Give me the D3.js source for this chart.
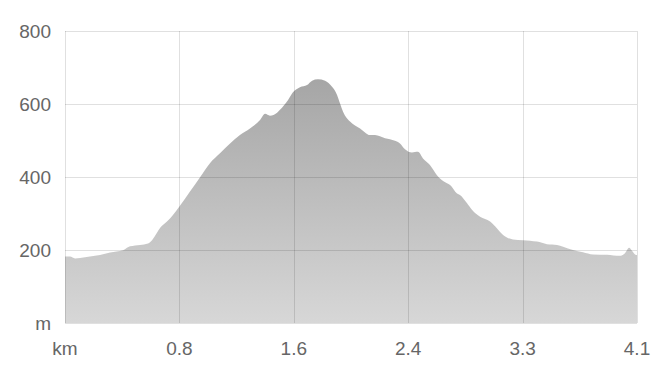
<!DOCTYPE html>
<html>
<head>
<meta charset="utf-8">
<script src="https://cdn.jsdelivr.net/npm/d3@7"></script>
<style>
body { margin: 0; background: #fff; }
svg { display: block; font-family: "Liberation Sans", Arial, sans-serif; }
</style>
</head>
<body>
<div class="chart"></div>
<script>
// elevation profile: distance (km) and elevation (m)
var dist = [0, 0.036, 0.072, 0.108, 0.179, 0.251, 0.323, 0.416, 0.444, 0.466, 0.538, 0.595, 0.624, 0.659, 0.681,
  0.731, 0.774, 0.824, 0.896, 0.968, 1.039, 1.111, 1.183, 1.254, 1.326, 1.398, 1.434, 1.469, 1.520, 1.541,
  1.599, 1.634, 1.684, 1.735, 1.771, 1.813, 1.864, 1.914, 1.950, 1.971, 1.993, 2.043, 2.115, 2.186, 2.222,
  2.294, 2.365, 2.401, 2.437, 2.487, 2.530, 2.566, 2.616, 2.666, 2.688, 2.738, 2.760, 2.810, 2.831, 2.882,
  2.917, 2.975, 3.047, 3.097, 3.140, 3.211, 3.283, 3.383, 3.455, 3.527, 3.570, 3.641, 3.713, 3.785, 3.885,
  3.978, 4.014, 4.043, 4.064, 4.086, 4.1];
var elev = [182, 182, 177, 178, 182, 186, 193, 199, 206, 210, 214, 218, 227, 247, 260,
  278, 296, 321, 360, 399, 438, 465, 492, 515, 533, 556, 573, 568, 576, 584,
  611, 632, 646, 652, 664, 668, 664, 647, 625, 602, 579, 552, 533, 515, 515,
  506, 499, 492, 476, 467, 469, 451, 433, 405, 396, 383, 378, 355, 351, 328,
  310, 291, 278, 259, 241, 229, 227, 223, 216, 214, 209, 200, 194, 188, 187,
  184, 191, 206, 198, 188, 186];

var xTicks = [0, 0.82, 1.64, 2.46, 3.28, 4.1];
var xLabels = ["km", "0.8", "1.6", "2.4", "3.3", "4.1"];
var yTicks = [0, 200, 400, 600, 800];
var yLabels = ["m", "200", "400", "600", "800"];

var W = 660, H = 386;
var margin = {top: 31, right: 23, bottom: 63, left: 65},
  width = W - margin.left - margin.right,
  height = H - margin.top - margin.bottom;

var data = dist.map(function(d, i) { return {d: d, e: elev[i]}; });

var x = d3.scaleLinear().domain([0, 4.1]).range([0, width]);
var y = d3.scaleLinear().domain([0, 800]).range([height, 0]);

var svg = d3.select(".chart").append("svg")
  .attr("width", W).attr("height", H);

var grad = svg.append("defs").append("linearGradient")
  .attr("id", "fillGrad")
  .attr("gradientUnits", "userSpaceOnUse")
  .attr("x1", 0).attr("y1", 0).attr("x2", 0).attr("y2", height);
grad.append("stop").attr("offset", "0%").attr("stop-color", "#9c9c9c");
grad.append("stop").attr("offset", "100%").attr("stop-color", "#d7d7d7");

var g = svg.append("g")
  .attr("transform", "translate(" + margin.left + "," + margin.top + ")");

var area = d3.area()
  .x(function(d) { return x(d.d); })
  .y0(height)
  .y1(function(d) { return y(d.e); })
  .curve(d3.curveMonotoneX);

g.append("path")
  .datum(data)
  .attr("d", area)
  .attr("fill", "url(#fillGrad)");

// grid on top of the area
g.append("g")
  .selectAll("line.h")
  .data(yTicks)
  .enter().append("line")
  .attr("x1", 0).attr("x2", width)
  .attr("y1", function(d) { return Math.round(y(d)) + 0.5; })
  .attr("y2", function(d) { return Math.round(y(d)) + 0.5; })
  .attr("stroke", "rgba(0,0,0,0.12)");

g.append("g")
  .selectAll("line.v")
  .data(xTicks)
  .enter().append("line")
  .attr("y1", 0).attr("y2", height)
  .attr("x1", function(d) { return Math.round(x(d)) + 0.5; })
  .attr("x2", function(d) { return Math.round(x(d)) + 0.5; })
  .attr("stroke", "rgba(0,0,0,0.12)");

// labels
g.append("g")
  .selectAll("text")
  .data(yTicks)
  .enter().append("text")
  .attr("x", -14)
  .attr("y", function(d) { return y(d); })
  .attr("dy", "0.36em")
  .attr("text-anchor", "end")
  .style("font-size", "19px")
  .style("fill", "#666")
  .text(function(d, i) { return yLabels[i]; });

g.append("g")
  .selectAll("text")
  .data(xTicks)
  .enter().append("text")
  .attr("x", function(d) { return x(d); })
  .attr("y", height + 32)
  .attr("text-anchor", "middle")
  .style("font-size", "19px")
  .style("fill", "#666")
  .text(function(d, i) { return xLabels[i]; });
</script>
</body>
</html>
